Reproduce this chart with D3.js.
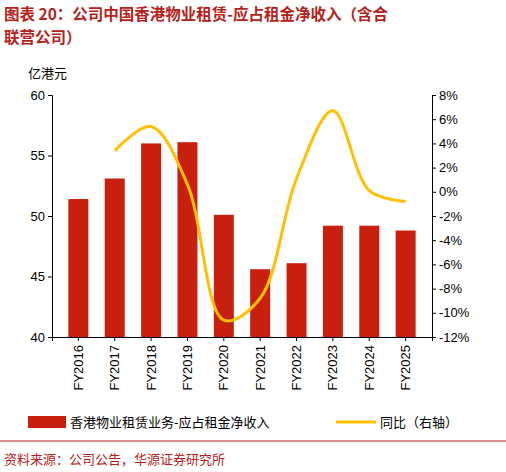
<!DOCTYPE html>
<html><head><meta charset="utf-8">
<script src="https://cdn.jsdelivr.net/npm/d3@7"></script>
<style>body{margin:0;background:#fff;font-family:"Noto Sans CJK SC","Noto Sans",sans-serif;}</style>
</head><body>
<svg id="c" width="506" height="472"></svg>
<script>
const years = ['FY2016','FY2017','FY2018','FY2019','FY2020','FY2021','FY2022','FY2023','FY2024','FY2025'];
const income = [51.4, 53.1, 56.0, 56.1, 50.1, 45.6, 46.1, 49.2, 49.2, 48.8];
const yoy = [null, 3.4, 5.4, 0.6, -10.6, -8.8, 1.1, 6.7, 0.1, -0.8];
const leftTicks = [40, 45, 50, 55, 60];
const rightTicks = [-12, -10, -8, -6, -4, -2, 0, 2, 4, 6, 8];

const svg = d3.select('#c');
const red = '#c8200e', gold = '#ffc000', titleRed = '#b5221b';
const plotTop = 95, plotBottom = 337, plotLeft = 70, plotRight = 414;

svg.append('text').attr('x', 4).attr('y', 20).attr('fill', titleRed)
  .attr('font-size', 15.5).attr('font-weight', 'bold').text('图表 20：公司中国香港物业租赁-应占租金净收入（含合');
svg.append('text').attr('x', 4).attr('y', 43).attr('fill', titleRed)
  .attr('font-size', 15.5).attr('font-weight', 'bold').text('联营公司）');
svg.append('text').attr('x', 28).attr('y', 78).attr('font-size', 13).text('亿港元');

const x = d3.scaleBand().domain(years).range([plotLeft - 18, plotRight + 18]).padding(0.45);
const y = d3.scaleLinear().domain([40, 60]).range([plotBottom, plotTop]);
const y2 = d3.scaleLinear().domain([-12, 8]).range([plotBottom, plotTop]);

svg.selectAll('rect.bar').data(years).join('rect')
  .attr('x', d => x(d)).attr('width', x.bandwidth())
  .attr('y', (d, i) => y(income[i])).attr('height', (d, i) => plotBottom - y(income[i]))
  .attr('fill', red);

const gl = svg.append('g').attr('transform', `translate(${plotLeft - 18},0)`)
  .call(d3.axisLeft(y).tickValues(leftTicks).tickSize(4));
const gr = svg.append('g').attr('transform', `translate(${plotRight + 18},0)`)
  .call(d3.axisRight(y2).tickValues(rightTicks).tickSize(4).tickFormat(d => d + '%'));
const gx = svg.append('g').attr('transform', `translate(0,${plotBottom})`)
  .call(d3.axisBottom(x).tickSize(4));
[gl, gr, gx].forEach(g => {
  g.selectAll('text').attr('font-size', 13).attr('fill', '#000').attr('font-family', 'Liberation Sans, Arial, sans-serif');
  g.selectAll('line,path').attr('stroke', '#000');
});
gx.selectAll('text').attr('transform', 'rotate(-90)').attr('text-anchor', 'end')
  .attr('x', -8).attr('y', 0).attr('dy', '0.35em');

const line = d3.line().defined(d => d != null)
  .x((d, i) => x(years[i]) + x.bandwidth() / 2).y(d => y2(d))
  .curve(d3.curveCatmullRom.alpha(0.5));
svg.append('path').datum(yoy).attr('d', line).attr('fill', 'none')
  .attr('stroke', gold).attr('stroke-width', 3);

const lg = svg.append('g').attr('transform', 'translate(0,422)');
lg.append('rect').attr('x', 28).attr('y', -6).attr('width', 38).attr('height', 12).attr('fill', red);
lg.append('text').attr('x', 70).attr('y', 5).attr('font-size', 13).text('香港物业租赁业务-应占租金净收入');
lg.append('line').attr('x1', 336).attr('x2', 376).attr('y1', 0).attr('y2', 0).attr('stroke', gold).attr('stroke-width', 3);
lg.append('text').attr('x', 380).attr('y', 5).attr('font-size', 13).text('同比（右轴）');

svg.append('line').attr('x1', 0).attr('x2', 506).attr('y1', 441).attr('y2', 441).attr('stroke', titleRed).attr('stroke-width', 1);
svg.append('text').attr('x', 4).attr('y', 464).attr('font-size', 13).attr('fill', titleRed).text('资料来源：公司公告，华源证券研究所');
</script>
</body></html>
